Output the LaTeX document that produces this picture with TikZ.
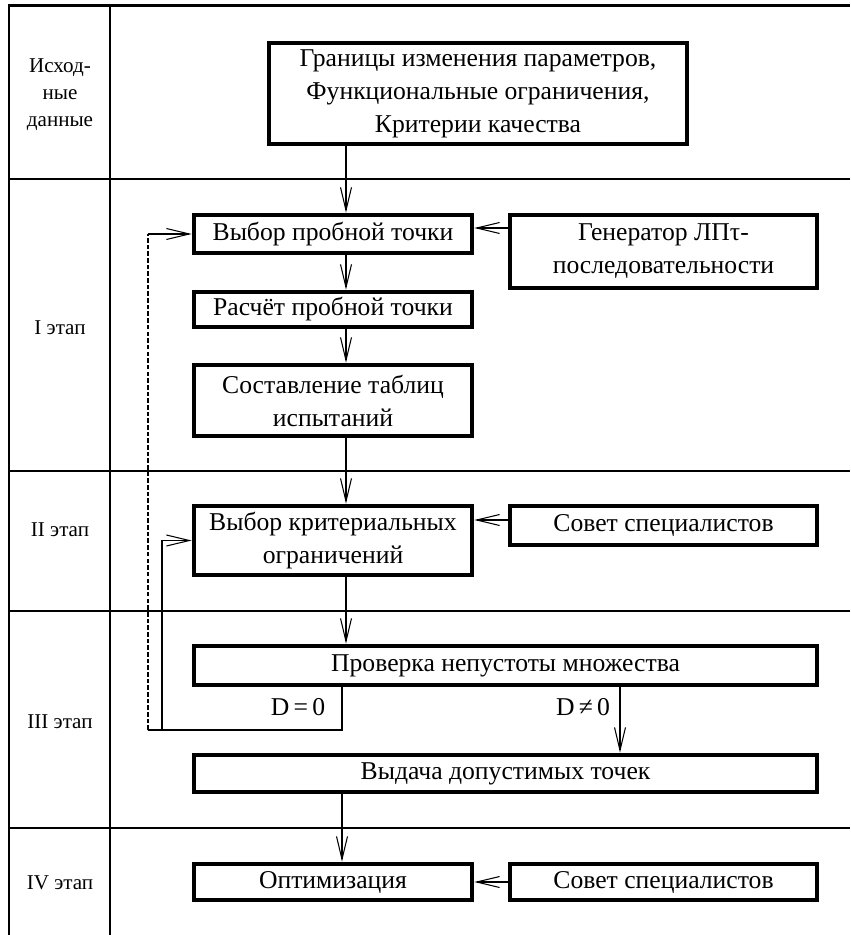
\documentclass[tikz,border=0pt]{standalone}
\usepackage{fontspec}
\setmainfont{Liberation Serif}
\usetikzlibrary{arrows.meta,calc,positioning}

\begin{document}
\begin{tikzpicture}[x=0.02cm,y=-0.02cm,
  box/.style={draw, line width=2.7pt, align=center, inner sep=0pt, font=\fontsize{14.6}{18.8}\selectfont},
  stage/.style={align=center, font=\fontsize{12}{15.4}\selectfont},
  lbl/.style={font=\fontsize{14.6}{18.8}\selectfont},
  arr/.style={line width=0.6pt, -{Straight Barb[length=4.6mm,width=2.2mm]}},
  grid/.style={line width=1.2pt}]
\useasboundingbox (0,0) rectangle (850,935);
% frame
\draw[line width=1.7pt] (9,935) -- (9,6) -- (850,6);
\draw[grid] (110,6) -- (110,935);
\foreach \y in {179,471,611,828} \draw[grid] (9,\y) -- (850,\y);
% stages
\node[stage] (s0) at (60,95) {Исход-\\ные\\данные};
\node[stage] (s1) at (60,328) {I этап};
\node[stage] (s2) at (60,530) {II этап};
\node[stage] (s3) at (60,722) {III этап};
\node[stage] (s4) at (60,883) {IV этап};
% boxes
\node[box, minimum width=8.36cm, minimum height=2.02cm] (bounds) at (478,93.5) {Границы изменения параметров,\\Функциональные ограничения,\\Критерии качества};
\node[box, minimum width=5.56cm, minimum height=0.76cm] (probe) at (333,234) {Выбор пробной точки};
\node[box, minimum width=6.14cm, minimum height=1.46cm] (gen) at (663.5,251.5) {Генератор ЛПτ-\\последовательности};
\node[box, minimum width=5.56cm, minimum height=0.70cm] (calc) at (333,309.5) {Расчёт пробной точки};
\node[box, minimum width=5.56cm, minimum height=1.42cm] (table) at (333,400.5) {Составление таблиц\\испытаний};
\node[box, minimum width=5.56cm, minimum height=1.38cm] (crit) at (333,540.5) {Выбор критериальных\\ограничений};
\node[box, minimum width=6.14cm, minimum height=0.78cm] (council1) at (663.5,525.5) {Совет специалистов};
\node[box, minimum width=12.46cm, minimum height=0.78cm] (check) at (505.5,665.5) {Проверка непустоты множества};
\node[box, minimum width=12.46cm, minimum height=0.74cm] (output) at (505.5,773.5) {Выдача допустимых точек};
\node[box, minimum width=5.56cm, minimum height=0.72cm] (optim) at (333,882) {Оптимизация};
\node[box, minimum width=6.14cm, minimum height=0.72cm] (council2) at (663.5,882) {Совет специалистов};
\node[lbl] (dz) at (298,707) {D\,=\,0};
\node[lbl] (dnz) at (583,707) {D\,≠\,0};
% connectors
\coordinate (ax) at (346,0);
\coordinate (bx) at (342,0);
\coordinate (nx) at (620,0);
\coordinate (gy) at (0,228);
\coordinate (cy) at (0,520);
\coordinate (fb) at (342,730);
\coordinate (dl) at (148,730);
\coordinate (sl) at (162,730);
\draw[arr] (bounds.south -| ax) -- (probe.north -| ax);
\draw[arr] (probe.south -| ax) -- (calc.north -| ax);
\draw[arr] (calc.south -| ax) -- (table.north -| ax);
\draw[arr] (table.south -| ax) -- (crit.north -| ax);
\draw[arr] (crit.south -| ax) -- (check.north -| ax);
\draw[arr] (gen.west |- gy) -- (probe.east |- gy);
\draw[arr] (council1.west |- cy) -- (crit.east |- cy);
\draw[arr] (council2.west) -- (optim.east);
\draw[arr] (check.south -| nx) -- (output.north -| nx);
\draw[arr] (output.south -| bx) -- (optim.north -| bx);
% feedback
\draw[line width=0.6pt] (check.south -| bx) -- (fb) -- (dl);
\draw[line width=0.7pt, dash pattern=on 2.6pt off 1.2pt] (dl) -- (dl |- probe.west);
\draw[arr] (dl |- probe.west) -- (probe.west);
\draw[arr] (sl) -- (sl |- crit.west) -- (crit.west);
\end{tikzpicture}
\end{document}
